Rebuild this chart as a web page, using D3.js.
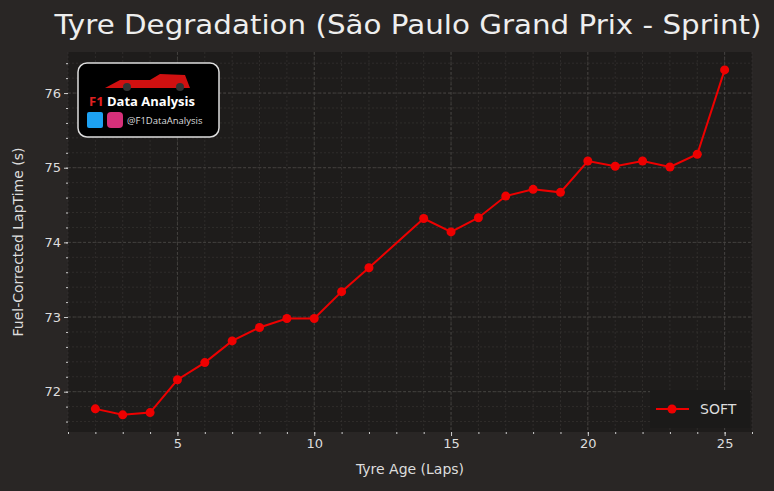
<!DOCTYPE html>
<html><head><meta charset="utf-8">
<script src="https://cdn.jsdelivr.net/npm/d3@7"></script>
<style>body{margin:0;background:#292625;font-family:"DejaVu Sans",sans-serif}</style>
</head><body>
<script>
var laps = [2,3,4,5,6,7,8,9,10,11,12,14,15,16,17,18,19,20,21,22,23,24,25];
var lapTimes = [71.77,71.69,71.72,72.16,72.39,72.68,72.86,72.98,72.98,73.34,73.66,74.32,74.14,74.33,74.62,74.71,74.67,75.09,75.02,75.09,75.01,75.18,76.31];
var xTicks = [5,10,15,20,25];
var yTicks = [72,73,74,75,76];

var W = 774, H = 491, L = 68, R = 752, T = 52, B = 432;
var svg = d3.select('body').append('svg').attr('width', W).attr('height', H);
svg.append('rect').attr('width', W).attr('height', H).attr('fill', '#292625');
svg.append('rect').attr('x', L).attr('y', T).attr('width', R - L).attr('height', B - T).attr('fill', '#1e1c1b');

var x = d3.scaleLinear().domain([1.0, 26.0]).range([L, R]);
var y = d3.scaleLinear().domain([71.46, 76.55]).range([B, T]);

var xMinor = d3.range(1, 27, 1), yMinor = d3.range(71.6, 76.6, 0.2);
var g = svg.append('g');
g.selectAll('.xm').data(xMinor).enter().append('line')
  .attr('x1', x).attr('x2', x).attr('y1', T).attr('y2', B)
  .attr('stroke', '#3a3735').attr('stroke-width', 0.6).attr('stroke-dasharray', '2,2');
g.selectAll('.ym').data(yMinor).enter().append('line')
  .attr('y1', y).attr('y2', y).attr('x1', L).attr('x2', R)
  .attr('stroke', '#3a3735').attr('stroke-width', 0.6).attr('stroke-dasharray', '2,2');
g.selectAll('.xg').data(xTicks).enter().append('line')
  .attr('x1', x).attr('x2', x).attr('y1', T).attr('y2', B)
  .attr('stroke', '#4a4745').attr('stroke-width', 0.8).attr('stroke-dasharray', '3,2');
g.selectAll('.yg').data(yTicks).enter().append('line')
  .attr('y1', y).attr('y2', y).attr('x1', L).attr('x2', R)
  .attr('stroke', '#4a4745').attr('stroke-width', 0.8).attr('stroke-dasharray', '3,2');

svg.append('g').attr('transform', 'translate(0,' + B + ')')
  .call(d3.axisBottom(x).tickValues(xTicks).tickSize(4).tickFormat(d3.format('d')));
svg.append('g').attr('transform', 'translate(' + L + ',0)')
  .call(d3.axisLeft(y).tickValues(yTicks).tickSize(4).tickFormat(d3.format('d')));
svg.append('g').attr('transform', 'translate(0,' + B + ')')
  .call(d3.axisBottom(x).tickValues(xMinor).tickSize(2).tickFormat(''));
svg.append('g').attr('transform', 'translate(' + L + ',0)')
  .call(d3.axisLeft(y).tickValues(yMinor).tickSize(2).tickFormat(''));
svg.selectAll('.domain').remove();
svg.selectAll('.tick line').attr('stroke', '#ccc');
svg.selectAll('.tick text').attr('fill', '#ddd').attr('font-size', 13).attr('font-family', 'DejaVu Sans');

var line = d3.line().x(function(d, i){ return x(laps[i]); }).y(function(d){ return y(d); });
svg.append('path').datum(lapTimes).attr('d', line).attr('fill', 'none').attr('stroke', '#ee0000').attr('stroke-width', 2);
svg.selectAll('.pt').data(lapTimes).enter().append('circle')
  .attr('cx', function(d, i){ return x(laps[i]); }).attr('cy', y).attr('r', 4.5).attr('fill', '#ee0000');

svg.append('text').attr('x', 408).attr('y', 34).attr('text-anchor', 'middle')
  .attr('fill', '#eee').attr('font-size', 27).attr('textLength', 707).attr('lengthAdjust', 'spacingAndGlyphs')
  .text('Tyre Degradation (São Paulo Grand Prix - Sprint)');
svg.append('text').attr('x', 410).attr('y', 474).attr('text-anchor', 'middle')
  .attr('fill', '#ddd').attr('font-size', 14).text('Tyre Age (Laps)');
svg.append('text').attr('transform', 'translate(23,242) rotate(-90)').attr('text-anchor', 'middle')
  .attr('fill', '#ddd').attr('font-size', 14).text('Fuel-Corrected LapTime (s)');

// legend
svg.append('rect').attr('x', 650).attr('y', 390).attr('width', 100).attr('height', 38).attr('fill', '#1b1a19');
svg.append('line').attr('x1', 656).attr('x2', 689).attr('y1', 409).attr('y2', 409).attr('stroke', '#ee0000').attr('stroke-width', 2);
svg.append('circle').attr('cx', 672).attr('cy', 409).attr('r', 4.5).attr('fill', '#ee0000');
svg.append('text').attr('x', 700).attr('y', 414).attr('fill', '#ddd').attr('font-size', 14).text('SOFT');

// logo badge
svg.append('rect').attr('x', 78).attr('y', 63).attr('width', 141).attr('height', 74).attr('rx', 9)
  .attr('fill', '#000').attr('stroke', '#ddd').attr('stroke-width', 1.5);
svg.append('path').attr('d', 'M105,88 L120,80 L150,80 L160,74 L185,75 L190,88 Z').attr('fill', '#d01010');
svg.append('circle').attr('cx', 127).attr('cy', 87).attr('r', 4).attr('fill', '#333');
svg.append('circle').attr('cx', 180).attr('cy', 87).attr('r', 4).attr('fill', '#333');
svg.append('text').attr('x', 89).attr('y', 106).attr('font-size', 13).attr('font-weight', 'bold').attr('font-family', 'Open Sans').attr('fill', '#e02020').text('F1');
svg.append('text').attr('x', 107).attr('y', 106).attr('font-size', 13).attr('font-weight', 'bold').attr('font-family', 'Open Sans').attr('fill', '#fff').text('Data Analysis');
svg.append('rect').attr('x', 87).attr('y', 112).attr('width', 16).attr('height', 16).attr('rx', 2).attr('fill', '#1da1f2');
svg.append('rect').attr('x', 107).attr('y', 112).attr('width', 16).attr('height', 16).attr('rx', 4).attr('fill', '#d6307a');
svg.append('text').attr('x', 127).attr('y', 124).attr('font-size', 9.5).attr('font-family', 'Open Sans').attr('fill', '#ddd').text('@F1DataAnalysis');
</script>
</body></html>
